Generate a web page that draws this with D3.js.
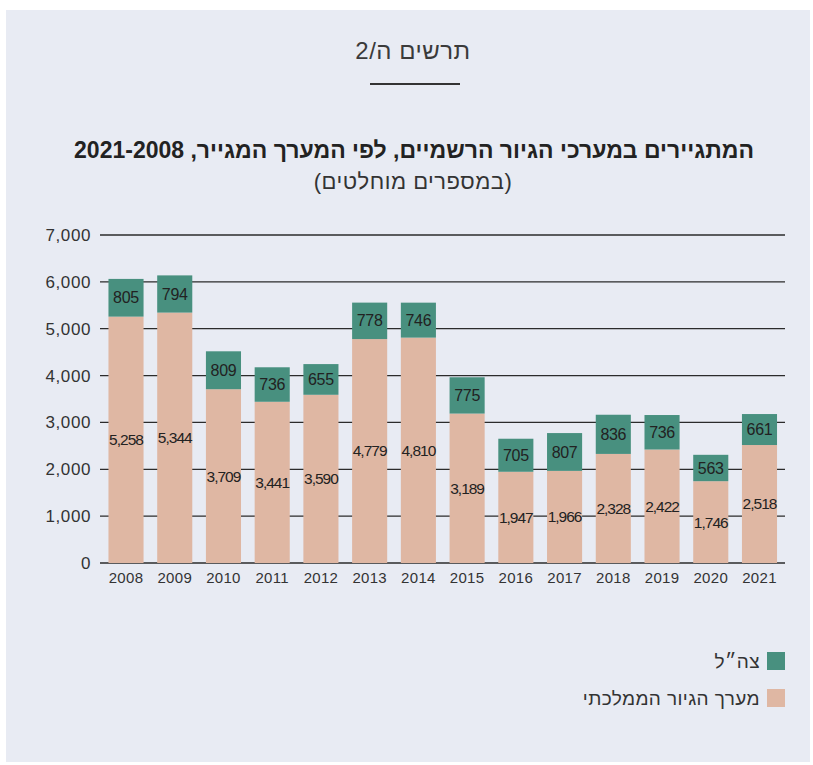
<!DOCTYPE html>
<html><head><meta charset="utf-8">
<script src="https://cdn.jsdelivr.net/npm/d3@7"></script>
<style>body{margin:0;background:#fff}svg{display:block}</style>
</head><body>
<svg id="chart" width="813" height="765"></svg>
<script>
const years = ["2008","2009","2010","2011","2012","2013","2014","2015","2016","2017","2018","2019","2020","2021"];
const stateValues = [5258,5344,3709,3441,3590,4779,4810,3189,1947,1966,2328,2422,1746,2518];
const idfValues = [805,794,809,736,655,778,746,775,705,807,836,736,563,661];
const yTicks = [0,1000,2000,3000,4000,5000,6000,7000];
const seriesNames = ["צה״ל","מערך הגיור הממלכתי"];
const seriesColors = ["#48907f","#dfb7a3"];
const chartLabel = "תרשים ה/2";
const titleText = "המתגיירים במערכי הגיור הרשמיים, לפי המערך המגייר, 2021-2008";
const subtitleText = "(במספרים מוחלטים)";

const svg = d3.select("#chart");
const font = "'Liberation Sans', Arial, sans-serif";
svg.append("rect").attr("x",6).attr("y",10).attr("width",804).attr("height",752).attr("fill","#e8ebf3");

svg.append("text").attr("x",413).attr("y",59).attr("text-anchor","middle").attr("direction","rtl")
  .attr("font-family",font).attr("font-size",24).attr("letter-spacing",0.5).attr("fill","#3a3a3a").text(chartLabel);
svg.append("line").attr("x1",370).attr("x2",460).attr("y1",84).attr("y2",84).attr("stroke","#333").attr("stroke-width",2);
svg.append("text").attr("x",414).attr("y",158).attr("text-anchor","middle").attr("direction","rtl")
  .attr("font-family",font).attr("font-size",23).attr("font-weight","bold").attr("fill","#222").text(titleText);
svg.append("text").attr("x",413).attr("y",189).attr("text-anchor","middle").attr("direction","rtl")
  .attr("font-family",font).attr("font-size",22).attr("letter-spacing",0.5).attr("fill","#333").text(subtitleText);

const y = d3.scaleLinear().domain([0,7000]).range([563,235]);
const x = d3.scaleBand().domain(years).range([101.5,784]).paddingInner(0.28).paddingOuter(0.143);

const yAxis = svg.append("g").attr("transform","translate(101,0)")
  .call(d3.axisLeft(y).tickValues(yTicks).tickFormat(d3.format(",")).tickSize(0).tickPadding(10));
yAxis.select(".domain").remove();
yAxis.selectAll("text").attr("font-family",font).attr("font-size",17).attr("letter-spacing",0.6).attr("fill","#333");

svg.append("g").selectAll("line").data(yTicks).join("line")
  .attr("x1",100).attr("x2",785).attr("y1",d=>y(d)).attr("y2",d=>y(d))
  .attr("stroke","#2b2b2b").attr("stroke-width",1.3);

const xAxis = svg.append("g").attr("transform","translate(0,563)")
  .call(d3.axisBottom(x).tickSize(0).tickPadding(9));
xAxis.select(".domain").remove();
xAxis.selectAll("text").attr("font-family",font).attr("font-size",15).attr("letter-spacing",0.3).attr("fill","#333");

const data = years.map((yr,i)=>({yr, s:stateValues[i], z:idfValues[i]}));
const g = svg.append("g");
g.selectAll("rect.s").data(data).join("rect").attr("class","s")
  .attr("x",d=>x(d.yr)).attr("width",x.bandwidth())
  .attr("y",d=>y(d.s)).attr("height",d=>y(0)-y(d.s)).attr("fill",seriesColors[1]);
g.selectAll("rect.z").data(data).join("rect").attr("class","z")
  .attr("x",d=>x(d.yr)).attr("width",x.bandwidth())
  .attr("y",d=>y(d.s+d.z)).attr("height",d=>y(d.s)-y(d.s+d.z)).attr("fill",seriesColors[0]);

const fmt = d3.format(",");
g.selectAll("text.s").data(data).join("text").attr("class","s")
  .attr("x",d=>x(d.yr)+x.bandwidth()/2).attr("y",d=>(y(0)+y(d.s))/2).attr("dy","0.35em")
  .attr("text-anchor","middle").attr("font-family",font).attr("font-size",15.5).attr("letter-spacing",-1)
  .attr("fill","#222").text(d=>fmt(d.s));
g.selectAll("text.z").data(data).join("text").attr("class","z")
  .attr("x",d=>x(d.yr)+x.bandwidth()/2).attr("y",d=>(y(d.s)+y(d.s+d.z))/2).attr("dy","0.35em")
  .attr("text-anchor","middle").attr("font-family",font).attr("font-size",16).attr("letter-spacing",-0.3)
  .attr("fill","#222").text(d=>fmt(d.z));

const leg = svg.append("g");
seriesNames.forEach((n,i)=>{
  const yy = 652 + i*37;
  leg.append("rect").attr("x",767).attr("y",yy).attr("width",18).attr("height",18).attr("fill",seriesColors[i]);
  leg.append("text").attr("x",760).attr("y",yy+9).attr("dy","0.35em").attr("text-anchor","start").attr("direction","rtl")
    .attr("font-family",font).attr("font-size",19).attr("letter-spacing",0.4).attr("fill","#333").text(n);
});
</script>
</body></html>
